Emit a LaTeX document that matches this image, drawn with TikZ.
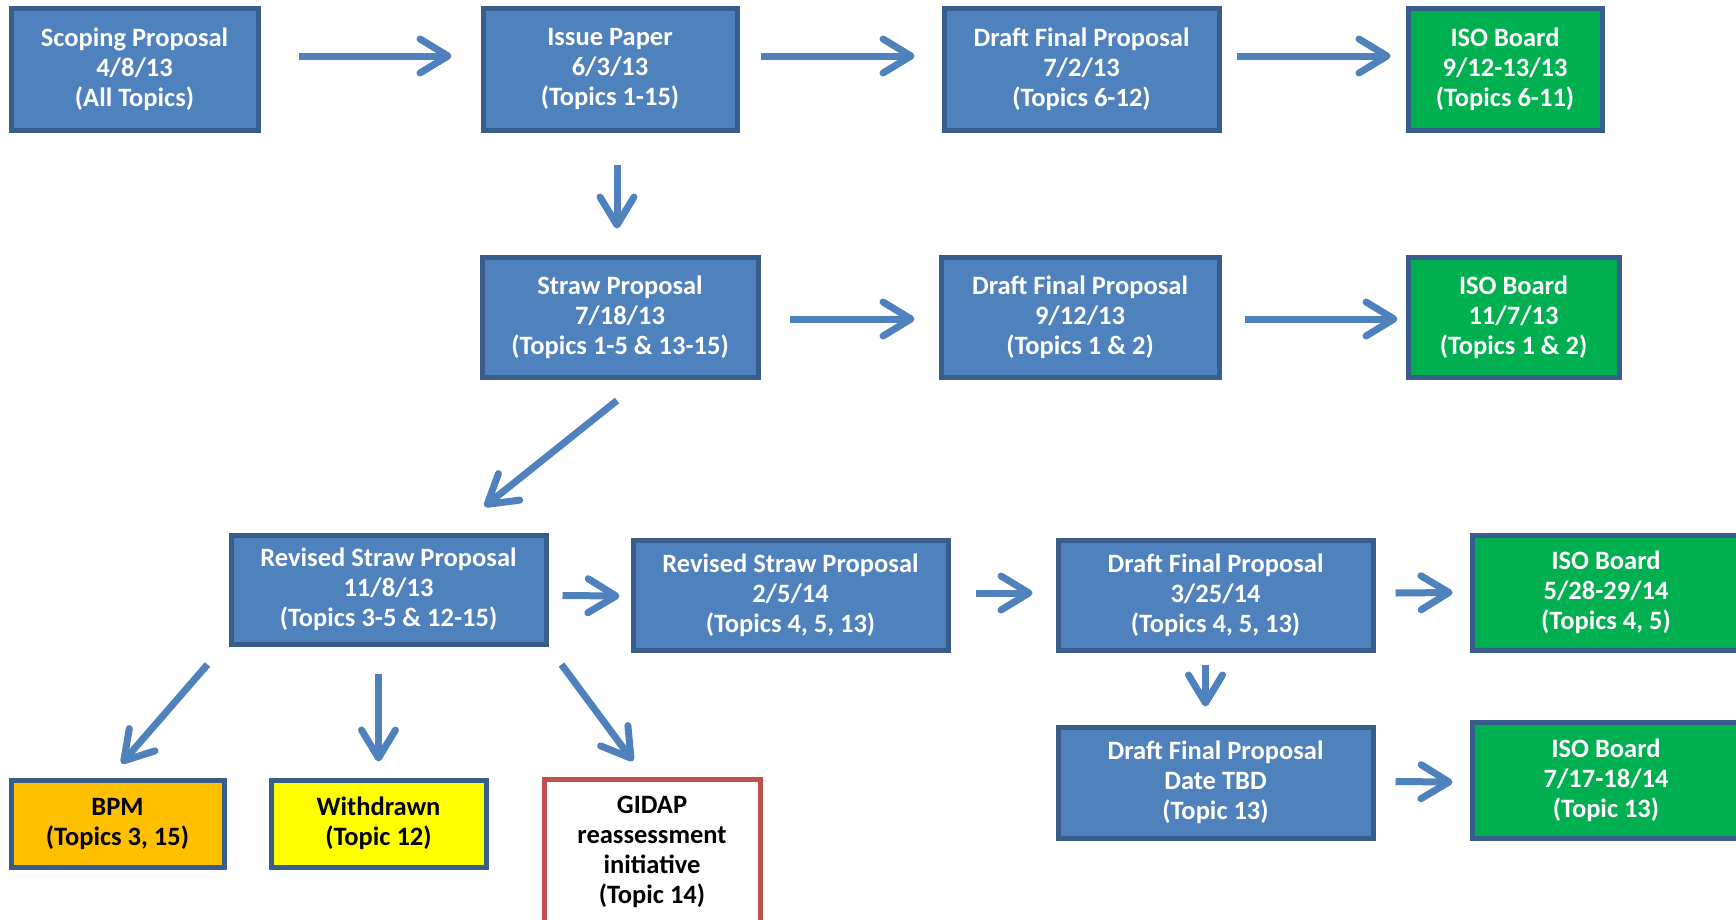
\documentclass[tikz,border=0pt]{standalone}
\usepackage{fontspec}
\setmainfont{Carlito}
\usetikzlibrary{arrows.meta, calc}
\definecolor{boxblue}{RGB}{79,129,189}
\definecolor{edgeblue}{RGB}{56,93,138}
\definecolor{boardgreen}{RGB}{0,176,80}
\definecolor{bpmorange}{RGB}{255,192,0}
\definecolor{wdyellow}{RGB}{255,255,0}
\definecolor{gidapred}{RGB}{192,80,77}

\begin{document}
\begin{tikzpicture}[
        x=1pt, y=-1pt,
        box/.style={rectangle, draw=edgeblue, line width=5pt, fill=boxblue, text=white, inner sep=0pt, align=center, font=\fontsize{26.5}{30}\selectfont\bfseries},
        board/.style={box, fill=boardgreen},
        arr/.style={-{Straight Barb[length=28pt, width=34pt, round]}, line width=7pt, boxblue}
    ]
        \useasboundingbox (0,0) rectangle (1736,919);
        % row 1
        \node[box, minimum width=247, minimum height=122] (scoping) at (134.5,69) {Scoping Proposal\\4/8/13\\(All Topics)};
        \node[box, minimum width=254, minimum height=122] (issue) at (610,69) {Issue Paper\\6/3/13\\(Topics 1-15)};
        \node[box, minimum width=275, minimum height=122] (draftA) at (1081.5,69) {Draft Final Proposal\\7/2/13\\(Topics 6-12)};
        \node[board, minimum width=194, minimum height=122] (boardA) at (1505,69) {ISO Board\\9/12-13/13\\(Topics 6-11)};
        % row 2
        \node[box, minimum width=276, minimum height=120] (straw) at (620,317) {Straw Proposal\\7/18/13\\(Topics 1-5 \& 13-15)};
        \node[box, minimum width=278, minimum height=120] (draftB) at (1080,317) {Draft Final Proposal\\9/12/13\\(Topics 1 \& 2)};
        \node[board, minimum width=211, minimum height=120] (boardB) at (1513.5,317) {ISO Board\\11/7/13\\(Topics 1 \& 2)};
        % row 3
        \node[box, minimum width=315, minimum height=109] (revA) at (388.5,589.5) {Revised Straw Proposal\\11/8/13\\(Topics 3-5 \& 12-15)};
        \node[box, minimum width=315, minimum height=110] (revB) at (790.5,595) {Revised Straw Proposal\\2/5/14\\(Topics 4, 5, 13)};
        \node[box, minimum width=315, minimum height=110] (draftC) at (1215.5,595) {Draft Final Proposal\\3/25/14\\(Topics 4, 5, 13)};
        \node[board, minimum width=268, minimum height=115] (boardC) at (1606,592.5) {ISO Board\\5/28-29/14\\(Topics 4, 5)};
        \node[box, minimum width=315, minimum height=111] (draftD) at (1215.5,782.5) {Draft Final Proposal\\Date TBD\\(Topic 13)};
        \node[board, minimum width=268, minimum height=116] (boardD) at (1606,780) {ISO Board\\7/17-18/14\\(Topic 13)};
        % outcomes
        \node[box, fill=bpmorange, text=black, minimum width=213, minimum height=87] (bpm) at (117.5,823.5) {BPM\\(Topics 3, 15)};
        \node[box, fill=wdyellow, text=black, minimum width=215, minimum height=87] (withdrawn) at (378.5,823.5) {Withdrawn\\(Topic 12)};
        \node[box, draw=gidapred, fill=white, text=black, minimum width=216, minimum height=145] (gidap) at (652,852) {GIDAP\\reassessment\\initiative\\(Topic 14)};

        \draw[arr] ([shift={(38,-13)}]scoping.east) -- ([shift={(-29,-13)}]issue.west);
        \draw[arr] ([shift={(21,-13)}]issue.east) -- ([shift={(-27,-13)}]draftA.west);
        \draw[arr] ([shift={(15,-13)}]draftA.east) -- ([shift={(-15,-13)}]boardA.west);
        \draw[arr] ([shift={(7,32)}]issue.south) -- ([shift={(-3,-26)}]straw.north);
        \draw[arr] ([shift={(29,2)}]straw.east) -- ([shift={(-24,2)}]draftB.west);
        \draw[arr] ([shift={(23,2)}]draftB.east) -- ([shift={(-8,2)}]boardB.west);
        \draw[arr] ([shift={(-3,21)}]straw.south) -- ([shift={(256,-26)}]revA.north west);
        \draw[arr] ([shift={(14,6)}]revA.east) -- ([shift={(-11,1)}]revB.west);
        \draw[arr] ([shift={(25,-2)}]revB.east) -- ([shift={(-23,-2)}]draftC.west);
        \draw[arr] ([shift={(20,-2)}]draftC.east) -- ([shift={(-17,0)}]boardC.west);
        \draw[arr] ([shift={(-10,12)}]draftC.south) -- ([shift={(-10,-18)}]draftD.north);
        \draw[arr] ([shift={(20,-1)}]draftD.east) -- ([shift={(-17,2)}]boardD.west);
        \draw[arr] ([shift={(-21,18)}]revA.south west) -- ([shift={(4,-14)}]bpm.north);
        \draw[arr] ([shift={(-10,27)}]revA.south) -- ([shift={(0,-16)}]withdrawn.north);
        \draw[arr] ([shift={(13,18)}]revA.south east) -- ([shift={(-19,-16)}]gidap.north);
    \end{tikzpicture}
\end{document}
